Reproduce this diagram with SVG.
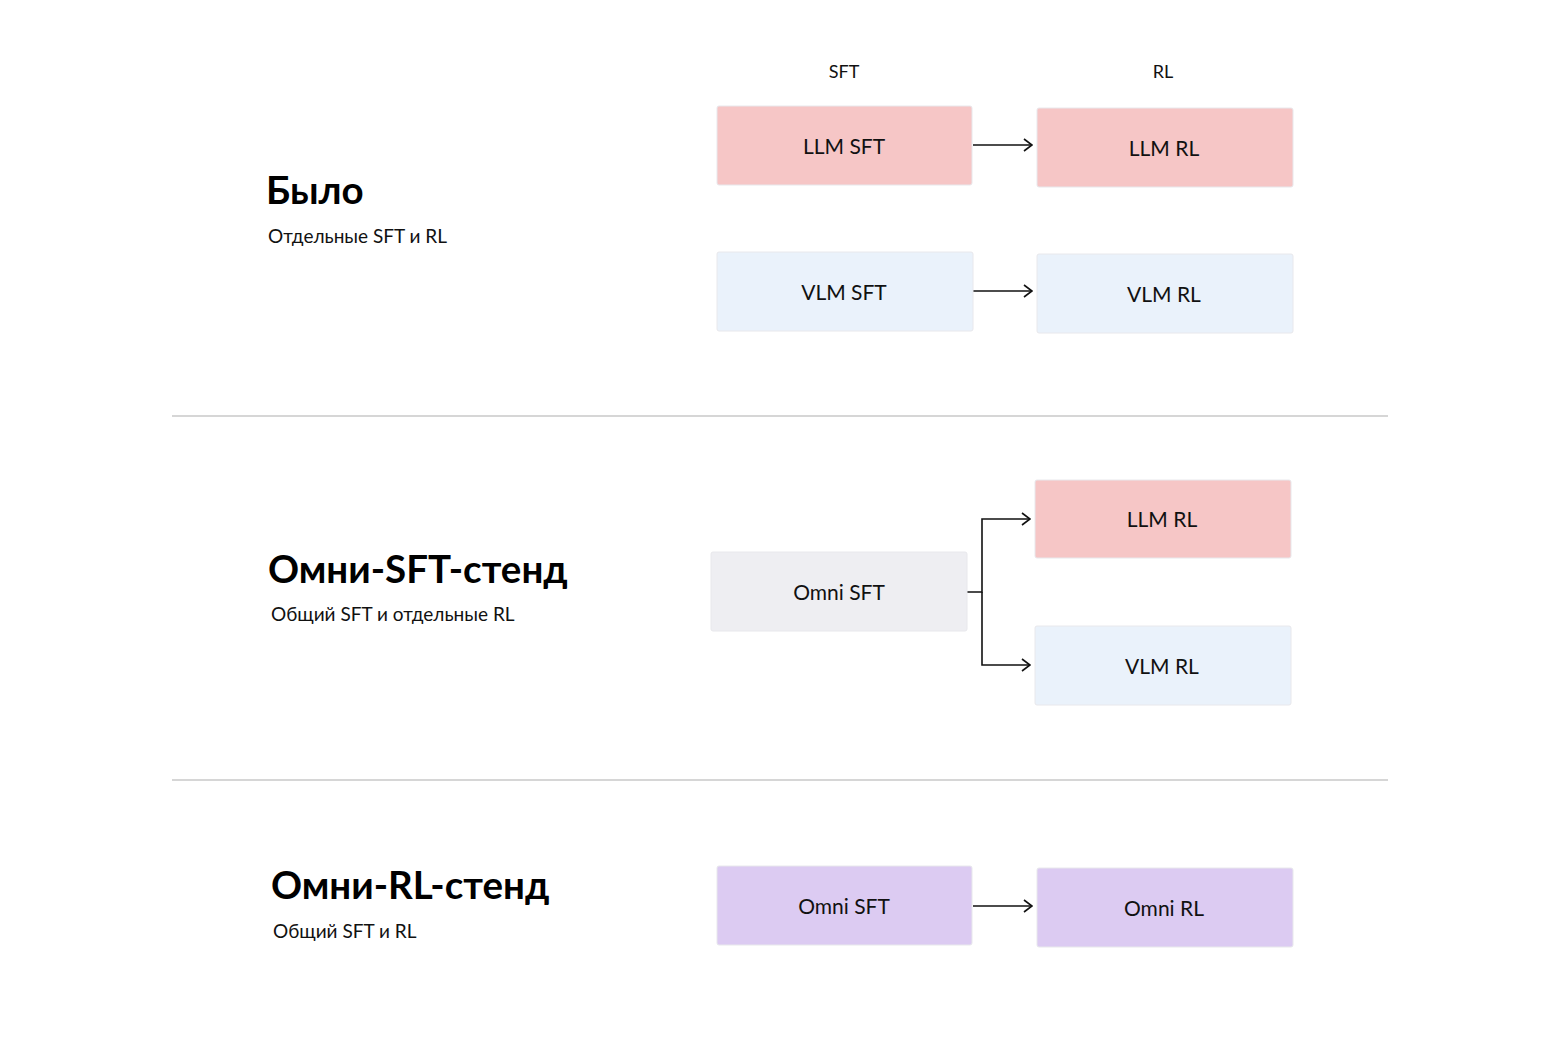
<svg xmlns="http://www.w3.org/2000/svg" width="1560" height="1048" viewBox="0 0 1560 1048">
<defs>
<marker id="ah" viewBox="0 0 10 14" refX="9" refY="7" markerWidth="10" markerHeight="14" markerUnits="userSpaceOnUse" orient="auto">
<path d="M1,1 L9,7 L1,13" fill="none" stroke="#111" stroke-width="1.6"/>
</marker>
</defs>
<style>
.box{stroke:#e8e8ec;stroke-width:1}
.pink{fill:#f6c6c6}
.blue{fill:#eaf2fb}
.grey{fill:#eeeef2}
.purple{fill:#dccbf2}
.lbl{font-family:Lato,"Noto Sans",sans-serif;font-size:21px;fill:#111;text-anchor:middle}
.hdr{font-family:Lato,"Noto Sans",sans-serif;font-size:18px;fill:#111;text-anchor:middle}
.title{font-family:Lato,"Noto Sans",sans-serif;font-size:38.5px;font-weight:bold;fill:#000}
.sub{font-family:Lato,"Noto Sans",sans-serif;font-size:19px;fill:#111}
.con{fill:none;stroke:#111;stroke-width:1.6}
.sep{stroke:#c8c8c8;stroke-width:1.5}
</style>
<rect width="1560" height="1048" fill="#fff"/>
<line class="sep" x1="172" y1="416" x2="1388" y2="416"/>
<line class="sep" x1="172" y1="780" x2="1388" y2="780"/>
<text class="hdr" x="844" y="78">SFT</text>
<text class="hdr" x="1163" y="78">RL</text>
<text class="title" x="266" y="204">Было</text>
<text class="sub" x="268" y="243">Отдельные SFT и RL</text>
<text class="title" x="268" y="583">Омни-SFT-стенд</text>
<text class="sub" x="271" y="621">Общий SFT и отдельные RL</text>
<text class="title" x="271" y="899">Омни-RL-стенд</text>
<text class="sub" x="273" y="938">Общий SFT и RL</text>
<g id="connectors">
<line class="con" x1="973" y1="145" x2="1032" y2="145" marker-end="url(#ah)"/>
<line class="con" x1="973" y1="291" x2="1032" y2="291" marker-end="url(#ah)"/>
<path class="con" d="M967,592 H982 V519 H1030" marker-end="url(#ah)"/>
<path class="con" d="M982,592 V665 H1030" marker-end="url(#ah)"/>
<line class="con" x1="973" y1="906" x2="1032" y2="906" marker-end="url(#ah)"/>
</g>
<g id="llm-sft"><rect class="box pink" x="717" y="106" width="255" height="79" rx="2"/><text class="lbl" x="844" y="154">LLM SFT</text></g>
<g id="llm-rl"><rect class="box pink" x="1037" y="108" width="256" height="79" rx="2"/><text class="lbl" x="1164" y="156">LLM RL</text></g>
<g id="vlm-sft"><rect class="box blue" x="717" y="252" width="256" height="79" rx="2"/><text class="lbl" x="844" y="300">VLM SFT</text></g>
<g id="vlm-rl"><rect class="box blue" x="1037" y="254" width="256" height="79" rx="2"/><text class="lbl" x="1164" y="302">VLM RL</text></g>
<g id="omni-sft-2"><rect class="box grey" x="711" y="552" width="256" height="79" rx="2"/><text class="lbl" x="839" y="600">Omni SFT</text></g>
<g id="llm-rl-2"><rect class="box pink" x="1035" y="480" width="256" height="78" rx="2"/><text class="lbl" x="1162" y="527">LLM RL</text></g>
<g id="vlm-rl-2"><rect class="box blue" x="1035" y="626" width="256" height="79" rx="2"/><text class="lbl" x="1162" y="674">VLM RL</text></g>
<g id="omni-sft-3"><rect class="box purple" x="717" y="866" width="255" height="79" rx="2"/><text class="lbl" x="844" y="914">Omni SFT</text></g>
<g id="omni-rl-3"><rect class="box purple" x="1037" y="868" width="256" height="79" rx="2"/><text class="lbl" x="1164" y="916">Omni RL</text></g>
</svg>
